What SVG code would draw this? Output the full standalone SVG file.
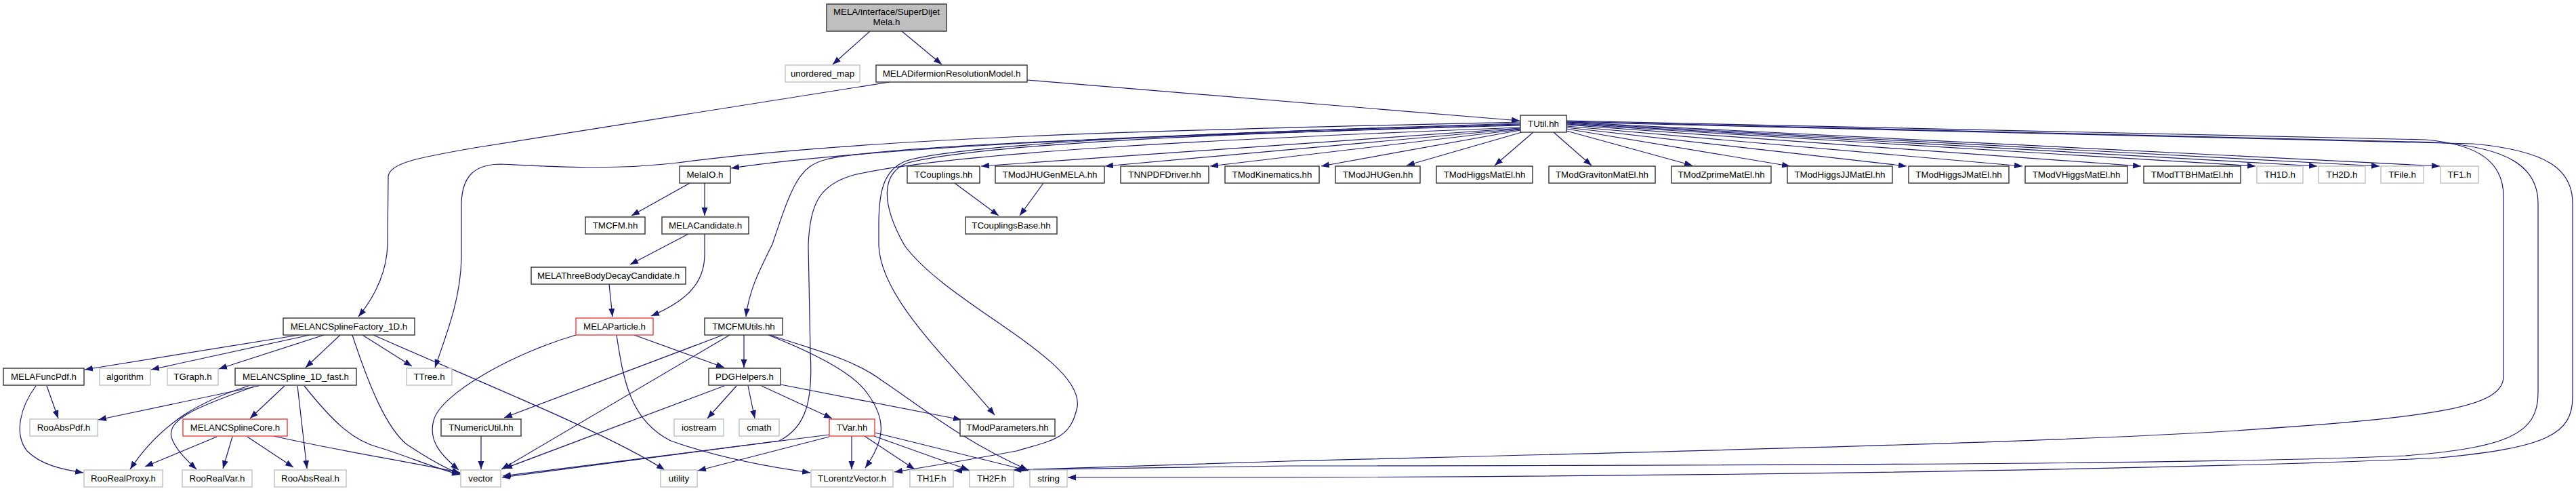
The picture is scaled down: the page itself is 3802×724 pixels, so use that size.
<svg xmlns="http://www.w3.org/2000/svg" width="3802" height="724" viewBox="0 0 3802 724">
<defs>
<marker id="a" markerWidth="13" markerHeight="10" refX="12" refY="4.5" orient="auto" markerUnits="userSpaceOnUse"><path d="M0,0 L12,4.5 L0,9 z" fill="#191970"/></marker>
<style>
rect{fill:#fff;stroke-width:1.4}
.n rect{stroke:#333}
.g rect{stroke:#c0c0c0}
.r rect{stroke:#f03c3c}
.root rect{fill:#bfbfbf;stroke:#333}
text{font-family:"Liberation Sans",Arial,sans-serif;font-size:13.33px;fill:#000;text-anchor:middle}
#edges path{fill:none;stroke:#191970;stroke-width:1.2;marker-end:url(#a)}
</style>
</defs>
<rect x="0" y="0" width="3802" height="724" style="fill:#fff;stroke:none"/>
<g id="edges">
<path d="M1284,46 L1229,95"/>
<path d="M1331,46 L1390,95"/>
<path d="M1516,118 L2243,178"/>
<path d="M1313,121 L700,218 C620,232 575,240 573,260 L572,360 C571,400 555,435 529,467"/>
<path d="M2244,180 C1800,190 1300,200 1000,240 C900,252 800,245 740,242 C700,242 682,260 681,300 L681,380 C680,440 660,490 642,542"/>
<path d="M2244,183 C1800,195 1300,215 1079,248"/>
<path d="M2244,185 C1700,200 1300,215 1220,235 C1180,245 1170,270 1140,360 C1120,400 1105,430 1101,467"/>
<path d="M2244,188 C1800,205 1400,225 1260,258 C1210,272 1195,300 1193,362 L1196,520 C1200,590 1190,630 1150,650 C1000,670 850,690 741,704"/>
<path d="M2244,189 L1448,245"/>
<path d="M2244,190 L1631,245"/>
<path d="M2244,191 L1786,245"/>
<path d="M2244,192 L1950,245"/>
<path d="M2246,195 L2076,244"/>
<path d="M2263,195 L2206,244"/>
<path d="M2293,195 L2349,244"/>
<path d="M2312,193 L2498,244"/>
<path d="M2312,190 L2642,245"/>
<path d="M2312,188 L2814,245"/>
<path d="M2312,186 L2985,245"/>
<path d="M2312,184 L3160,245"/>
<path d="M2312,183 L3329,245"/>
<path d="M2312,182 L3420,245"/>
<path d="M2312,181 L3512,245"/>
<path d="M2312,180 L3601,245"/>
<path d="M2312,178 L3580,206 C3660,213 3695,240 3695,290 L3695,555 C3695,600 3600,615 3300,635 C3000,655 2200,672 1900,680 L1495,693"/>
<path d="M2312,179 L3600,210 C3700,218 3746,245 3746,300 L3746,580 C3746,640 3700,660 3550,672 C3300,683 2800,686 1900,687 L1408,694"/>
<path d="M2312,180 L3650,212 C3760,222 3797,250 3797,300 L3797,585 C3797,640 3760,660 3600,675 C3300,690 2600,702 1900,704 L1576,704"/>
<path d="M2244,182 C1800,195 1450,210 1345,235 C1305,245 1297,280 1297,330 L1297,362 C1300,440 1400,530 1468,612"/>
<path d="M2244,184 C1800,197 1450,212 1340,240 C1300,255 1300,300 1335,362 C1400,450 1600,530 1590,600 C1580,645 1560,648 1500,665 C1420,680 1370,688 1320,696"/>
<path d="M1018,270 L932,318"/>
<path d="M1040,270 L1040,318"/>
<path d="M1409,270 L1474,318"/>
<path d="M1540,270 L1505,318"/>
<path d="M1016,345 L930,390"/>
<path d="M1040,345 L1040,375 C1040,420 1010,445 961,466"/>
<path d="M899,419 L904,467"/>
<path d="M850,494 C760,520 650,580 640,620 C632,650 650,670 677,693"/>
<path d="M936,494 L1069,542"/>
<path d="M910,494 C920,560 930,620 990,650 C1060,675 1130,688 1196,697"/>
<path d="M1067,494 L744,616"/>
<path d="M1077,494 L740,692"/>
<path d="M1098,494 L1098,542"/>
<path d="M1134,494 C1200,520 1260,550 1280,580 C1310,620 1305,650 1277,690"/>
<path d="M1136,494 C1200,515 1260,530 1300,560 C1360,600 1420,650 1517,693"/>
<path d="M1069,569 L744,691"/>
<path d="M1087,569 L1044,617"/>
<path d="M1104,569 L1114,617"/>
<path d="M1124,569 L1228,617"/>
<path d="M1152,567 L1419,619"/>
<path d="M710,643 L710,692"/>
<path d="M1224,641 L742,702"/>
<path d="M1224,644 L1030,694"/>
<path d="M1257,643 L1257,692"/>
<path d="M1276,643 L1350,692"/>
<path d="M1290,643 L1430,693"/>
<path d="M1291,638 L1518,694"/>
<path d="M441,494 L125,545"/>
<path d="M457,494 L223,545"/>
<path d="M478,494 L323,544"/>
<path d="M502,494 L451,542"/>
<path d="M520,494 C545,570 570,630 600,655 C630,675 655,690 680,699"/>
<path d="M535,494 L608,540"/>
<path d="M551,494 C700,560 900,640 981,693"/>
<path d="M69,569 L86,617"/>
<path d="M53,569 C30,600 20,640 40,665 C60,685 90,692 123,697"/>
<path d="M382,569 L145,619"/>
<path d="M367,569 C300,590 240,620 192,692"/>
<path d="M375,570 C290,600 240,620 255,650 C262,665 275,678 290,692"/>
<path d="M420,569 L369,617"/>
<path d="M439,569 L453,691"/>
<path d="M449,569 C490,620 520,650 560,660 C600,672 640,690 679,700"/>
<path d="M320,644 L214,688"/>
<path d="M343,644 L329,691"/>
<path d="M365,644 L433,689"/>
<path d="M404,643 C500,665 600,680 679,697"/>
</g>
<g id="root" class="root"><rect x="1220" y="6" width="177" height="40"/><text x="1308.5" y="22">MELA/interface/SuperDijet</text><text x="1308.5" y="37">Mela.h</text></g>
<g id="unordered_map" class="g"><rect x="1159" y="96" width="110" height="25"/><text x="1214" y="113">unordered_map</text></g>
<g id="MELADifermionResolutionModel" class="n"><rect x="1293" y="96" width="223" height="25"/><text x="1404.5" y="113">MELADifermionResolutionModel.h</text></g>
<g id="TUtil" class="n"><rect x="2244" y="170" width="68" height="25"/><text x="2278" y="187">TUtil.hh</text></g>
<g id="MelaIO" class="n"><rect x="1003" y="245" width="75" height="25"/><text x="1040.5" y="262">MelaIO.h</text></g>
<g id="TCouplings" class="n"><rect x="1339" y="245" width="107" height="25"/><text x="1392.5" y="262">TCouplings.hh</text></g>
<g id="TModJHUGenMELA" class="n"><rect x="1469" y="245" width="161" height="25"/><text x="1549.5" y="262">TModJHUGenMELA.hh</text></g>
<g id="TNNPDFDriver" class="n"><rect x="1654" y="245" width="130" height="25"/><text x="1719" y="262">TNNPDFDriver.hh</text></g>
<g id="TModKinematics" class="n"><rect x="1808" y="245" width="139" height="25"/><text x="1877.5" y="262">TModKinematics.hh</text></g>
<g id="TModJHUGen" class="n"><rect x="1971" y="245" width="125" height="25"/><text x="2033.5" y="262">TModJHUGen.hh</text></g>
<g id="TModHiggsMatEl" class="n"><rect x="2120" y="245" width="142" height="25"/><text x="2191" y="262">TModHiggsMatEl.hh</text></g>
<g id="TModGravitonMatEl" class="n"><rect x="2286" y="245" width="157" height="25"/><text x="2364.5" y="262">TModGravitonMatEl.hh</text></g>
<g id="TModZprimeMatEl" class="n"><rect x="2467" y="245" width="147" height="25"/><text x="2540.5" y="262">TModZprimeMatEl.hh</text></g>
<g id="TModHiggsJJMatEl" class="n"><rect x="2638" y="245" width="155" height="25"/><text x="2715.5" y="262">TModHiggsJJMatEl.hh</text></g>
<g id="TModHiggsJMatEl" class="n"><rect x="2817" y="245" width="148" height="25"/><text x="2891" y="262">TModHiggsJMatEl.hh</text></g>
<g id="TModVHiggsMatEl" class="n"><rect x="2989" y="245" width="151" height="25"/><text x="3064.5" y="262">TModVHiggsMatEl.hh</text></g>
<g id="TModTTBHMatEl" class="n"><rect x="3164" y="245" width="143" height="25"/><text x="3235.5" y="262">TModTTBHMatEl.hh</text></g>
<g id="TH1D" class="g"><rect x="3331" y="245" width="68" height="25"/><text x="3365" y="262">TH1D.h</text></g>
<g id="TH2D" class="g"><rect x="3422" y="245" width="69" height="25"/><text x="3456.5" y="262">TH2D.h</text></g>
<g id="TFile" class="g"><rect x="3514" y="245" width="63" height="25"/><text x="3545.5" y="262">TFile.h</text></g>
<g id="TF1" class="g"><rect x="3602" y="245" width="56" height="25"/><text x="3630" y="262">TF1.h</text></g>
<g id="TMCFM" class="n"><rect x="864" y="320" width="88" height="25"/><text x="908" y="337">TMCFM.hh</text></g>
<g id="MELACandidate" class="n"><rect x="977" y="320" width="128" height="25"/><text x="1041" y="337">MELACandidate.h</text></g>
<g id="TCouplingsBase" class="n"><rect x="1425" y="320" width="135" height="25"/><text x="1492.5" y="337">TCouplingsBase.hh</text></g>
<g id="MELAThreeBodyDecayCandidate" class="n"><rect x="784" y="394" width="228" height="25"/><text x="898" y="411">MELAThreeBodyDecayCandidate.h</text></g>
<g id="MELANCSplineFactory_1D" class="n"><rect x="418" y="469" width="194" height="25"/><text x="515" y="486">MELANCSplineFactory_1D.h</text></g>
<g id="MELAParticle" class="r"><rect x="850" y="469" width="114" height="25"/><text x="907" y="486">MELAParticle.h</text></g>
<g id="TMCFMUtils" class="n"><rect x="1040" y="469" width="115" height="25"/><text x="1097.5" y="486">TMCFMUtils.hh</text></g>
<g id="MELAFuncPdf" class="n"><rect x="5" y="543" width="119" height="25"/><text x="64.5" y="560">MELAFuncPdf.h</text></g>
<g id="algorithm" class="g"><rect x="147" y="543" width="75" height="25"/><text x="184.5" y="560">algorithm</text></g>
<g id="TGraph" class="g"><rect x="247" y="543" width="75" height="25"/><text x="284.5" y="560">TGraph.h</text></g>
<g id="MELANCSpline_1D_fast" class="n"><rect x="347" y="543" width="179" height="25"/><text x="436.5" y="560">MELANCSpline_1D_fast.h</text></g>
<g id="TTree" class="g"><rect x="600" y="543" width="67" height="25"/><text x="633.5" y="560">TTree.h</text></g>
<g id="PDGHelpers" class="n"><rect x="1046" y="543" width="106" height="25"/><text x="1099" y="560">PDGHelpers.h</text></g>
<g id="RooAbsPdf" class="g"><rect x="44" y="618" width="100" height="25"/><text x="94" y="635">RooAbsPdf.h</text></g>
<g id="MELANCSplineCore" class="r"><rect x="270" y="618" width="154" height="25"/><text x="347" y="635">MELANCSplineCore.h</text></g>
<g id="TNumericUtil" class="n"><rect x="651" y="618" width="118" height="25"/><text x="710" y="635">TNumericUtil.hh</text></g>
<g id="iostream" class="g"><rect x="995" y="618" width="73" height="25"/><text x="1031.5" y="635">iostream</text></g>
<g id="cmath" class="g"><rect x="1091" y="618" width="59" height="25"/><text x="1120.5" y="635">cmath</text></g>
<g id="TVar" class="r"><rect x="1224" y="618" width="67" height="25"/><text x="1257.5" y="635">TVar.hh</text></g>
<g id="TModParameters" class="n"><rect x="1417" y="618" width="140" height="25"/><text x="1487" y="635">TModParameters.hh</text></g>
<g id="RooRealProxy" class="g"><rect x="124" y="693" width="116" height="25"/><text x="182" y="710">RooRealProxy.h</text></g>
<g id="RooRealVar" class="g"><rect x="269" y="693" width="103" height="25"/><text x="320.5" y="710">RooRealVar.h</text></g>
<g id="RooAbsReal" class="g"><rect x="405" y="693" width="106" height="25"/><text x="458" y="710">RooAbsReal.h</text></g>
<g id="vector" class="g"><rect x="680" y="693" width="59" height="25"/><text x="709.5" y="710">vector</text></g>
<g id="utility" class="g"><rect x="975" y="693" width="54" height="25"/><text x="1002" y="710">utility</text></g>
<g id="TLorentzVector" class="g"><rect x="1197" y="693" width="121" height="25"/><text x="1257.5" y="710">TLorentzVector.h</text></g>
<g id="TH1F" class="g"><rect x="1343" y="693" width="64" height="25"/><text x="1375" y="710">TH1F.h</text></g>
<g id="TH2F" class="g"><rect x="1431" y="693" width="65" height="25"/><text x="1463.5" y="710">TH2F.h</text></g>
<g id="string" class="g"><rect x="1520" y="693" width="55" height="25"/><text x="1547.5" y="710">string</text></g>
</svg>
